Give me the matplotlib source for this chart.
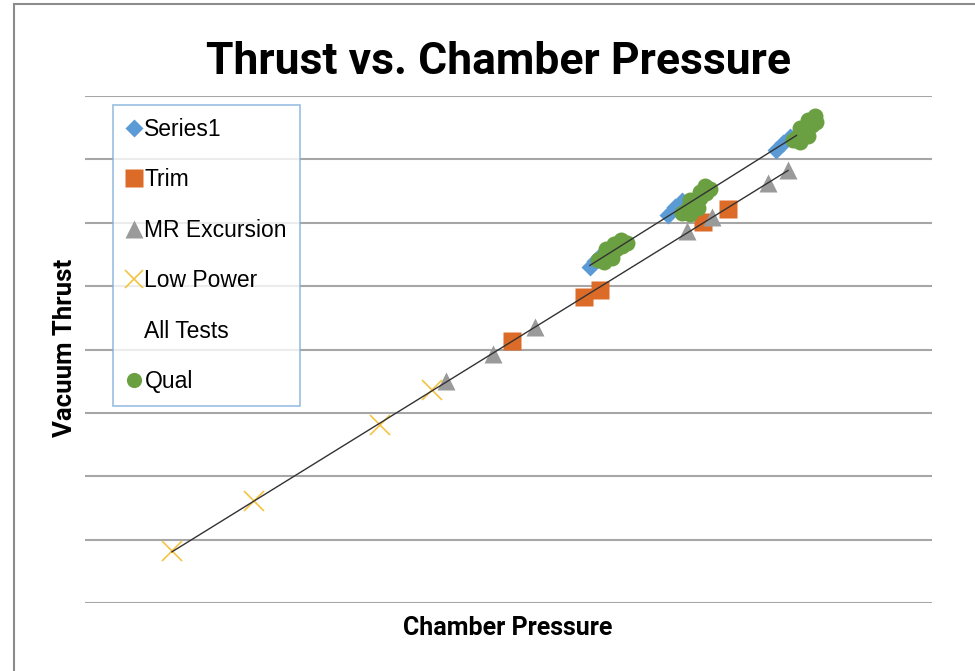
import numpy as np
import matplotlib
matplotlib.use('Agg')
import matplotlib.pyplot as plt
from matplotlib.patches import Rectangle

# values (arbitrary units: pressure 0-200, thrust 0-400)
series1_x = [119.2, 120.4, 121.6, 137.7, 139.3, 141.0, 163.2, 164.8, 166.5]
series1_y = [265.1, 269.8, 273.8, 306.1, 312.4, 317.2, 357.4, 362.9, 367.7]

trim_x = [100.8, 117.8, 121.6, 145.9, 151.8]
trim_y = [206.7, 241.4, 246.9, 300.6, 310.8]

mr_x = [85.2, 96.3, 106.3, 142.1, 148.1, 161.3, 166.0]
mr_y = [175.1, 196.4, 217.8, 293.5, 304.5, 331.4, 341.6]

low_x = [20.5, 39.9, 69.7, 81.9]
low_y = [41.0, 80.5, 140.4, 168.0]

qual_x = [121.1, 122.6, 124.0, 125.4, 126.8, 128.0, 123.0, 125.0, 126.6, 122.6, 124.4,
          141.0, 142.4, 143.8, 145.2, 146.6, 147.6, 142.9, 145.2, 146.4, 142.9, 144.8,
          167.2, 168.4, 169.5, 170.7, 171.7, 172.6, 168.8, 170.7, 172.4, 168.8, 170.7]
qual_y = [270.6, 273.8, 276.1, 279.3, 281.7, 284.0, 279.3, 283.2, 286.4, 269.0, 272.2,
          307.7, 311.6, 315.6, 319.5, 323.5, 326.6, 318.0, 324.3, 329.0, 306.9, 311.6,
          365.3, 368.4, 371.6, 374.8, 377.1, 379.5, 374.8, 381.1, 384.2, 363.7, 368.4]

all_x = low_x + mr_x + trim_x
all_y = low_y + mr_y + trim_y

blue = '#5B9BD5'
orange = '#DB6B27'
gray = '#9A9A9A'
yellow = '#F5C342'
green = '#6AA042'

W, H = 975, 671
fig = plt.figure(figsize=(W / 100, H / 100), dpi=100)
ax = fig.add_axes([85 / W, (H - 603) / H, 847 / W, 507 / H])

ax.plot(series1_x, series1_y, 'D', color=blue, ms=9.5, mec='none', label='Series1')
ax.plot(trim_x, trim_y, 's', color=orange, ms=13, mec='none', label='Trim')
ax.plot(mr_x, mr_y, '^', color=gray, ms=13, mec='none', label='MR Excursion')
ax.plot(low_x, low_y, 'x', color=yellow, ms=14, mew=1.2, label='Low Power')
ax.plot(all_x, all_y, linestyle='none', marker='', label='All Tests')
ax.plot(qual_x, qual_y, 'o', color=green, ms=11.5, mec='none', label='Qual')

# linear trendlines
m, b = np.polyfit(all_x, all_y, 1)
xs = np.array([min(all_x), max(all_x)])
ax.plot(xs, m * xs + b, color='#333333', lw=1, zorder=5)
m2, b2 = np.polyfit(series1_x + qual_x, series1_y + qual_y, 1)
xs2 = np.array([min(series1_x), max(series1_x) + 1.5])
ax.plot(xs2, m2 * xs2 + b2, color='#333333', lw=1, zorder=5)

ax.set_xlim(0, 200)
ax.set_ylim(0, 400)
ax.set_yticks(np.arange(0, 401, 50))
ax.set_xticks([])
ax.grid(axis='y', color='#A6A6A6', lw=1.5)
ax.set_axisbelow(True)
for s in ax.spines.values():
    s.set_visible(False)
ax.tick_params(length=0, labelleft=False, labelbottom=False)

leg = ax.legend(loc='upper left', bbox_to_anchor=((113 - 85) / 847, (603 - 105) / 507),
                prop={'family': 'Liberation Sans', 'size': 16.5}, frameon=True, fancybox=False,
                handlelength=0.7, handletextpad=0.12, labelspacing=1.2, borderpad=0.55,
                markerscale=0.95, borderaxespad=0)
leg.get_frame().set_edgecolor('#7FAEDC')
leg.get_frame().set_linewidth(1.2)

fig.text(499 / W, 1 - 62 / H, 'Thrust vs. Chamber Pressure', ha='center', va='center',
         fontsize=32, fontweight='bold', family='Roboto')
fig.text(508 / W, 1 - 628 / H, 'Chamber Pressure', ha='center', va='center',
         fontsize=18, fontweight='bold', family='Roboto')
fig.text(65 / W, 1 - 348 / H, 'Vacuum Thrust', ha='center', va='center', rotation=90,
         fontsize=18.5, fontweight='bold', family='Roboto')

# outer frame of the chart area (cut off at right and bottom)
fig.patches.append(Rectangle((14 / W, -0.1), 1.1, 1 - 4 / H + 0.1, transform=fig.transFigure,
                             fill=False, edgecolor='#8C8C8C', lw=1.5))

fig.savefig('out.png', dpi=100)
